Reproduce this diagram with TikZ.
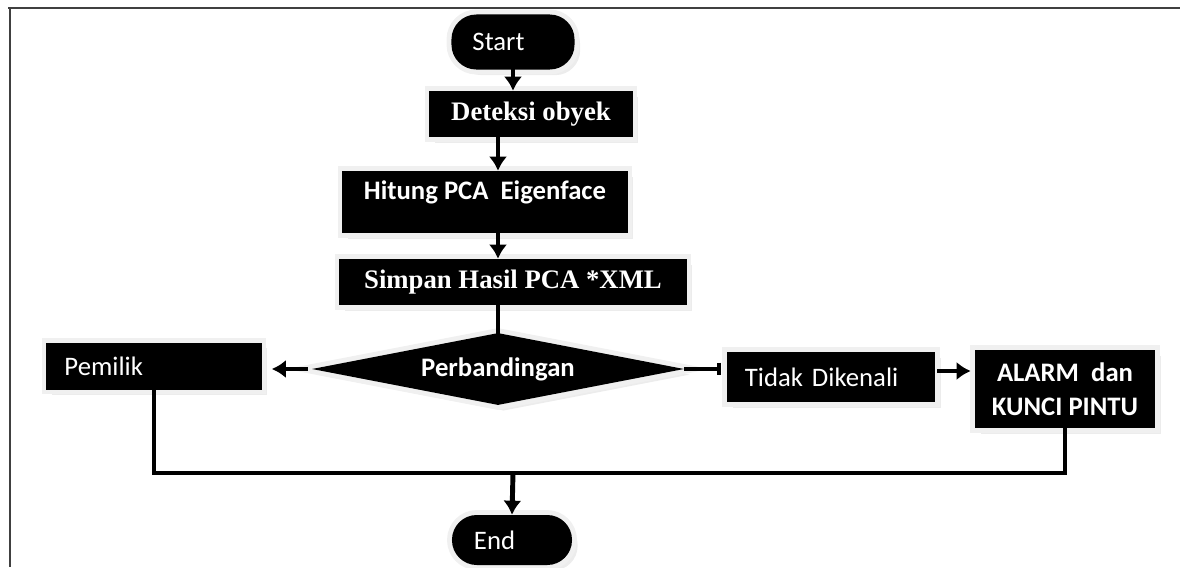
\documentclass[tikz,border=0pt]{standalone}
\usepackage{fontspec}
\setmainfont{Carlito}
\newfontfamily\timesfont{Liberation Serif}
\usetikzlibrary{shapes.geometric,arrows.meta,shadows}

\begin{document}
\begin{tikzpicture}[x=0.025cm,y=-0.025cm,
	box/.style={rectangle,fill=black,text=white,inner sep=0pt,
		font=\fontsize{19}{23}\selectfont,
		drop shadow={shadow xshift=4pt,shadow yshift=-4pt,fill=gray!30},
		preaction={draw=gray!12,line width=7pt}},
	term/.style={box,rounded corners=0.62cm},
	line/.style={line width=3.5pt,line cap=rect},
	arr/.style={line,-{Latex[length=10pt,width=13pt]}}]
	\useasboundingbox (0,0) rectangle (1184,567);
	% frame
	\draw[black!75,line width=1.2pt] (8,8) -- (1180,8);
	\draw[black!75,line width=1.2pt] (10,8) -- (10,567);
	% nodes
	\draw (513,42) node[term,minimum width=3.075cm,minimum height=1.375cm,inner xsep=0.525cm,text width=2.025cm,align=left] (1) {Start};
	\draw (531,114) node[box,minimum width=5.075cm,minimum height=1.15cm,font=\fontsize{19}{23}\selectfont\timesfont\bfseries] (2) {Deteksi obyek};
	\draw (485,202) node[box,minimum width=7.125cm,text height=0.7cm,text depth=0.85cm,font=\fontsize{19}{23}\selectfont\bfseries] (3) {Hitung PCA \ Eigenface};
	\draw (513,282) node[box,minimum width=8.675cm,minimum height=1.15cm,font=\fontsize{19}{23}\selectfont\timesfont\bfseries] (4) {Simpan Hasil PCA *XML};
	\draw (498,369) node[box,shape=diamond,aspect=5.3,minimum width=9.3cm,minimum height=1.8cm,font=\fontsize{19}{23}\selectfont\bfseries] (5) {Perbandingan};
	\draw (154,366) node[box,minimum width=5.375cm,minimum height=1.175cm,inner xsep=0.45cm,text width=4.475cm,align=left] (6) {Pemilik};
	\draw (831,377) node[box,minimum width=5.2cm,minimum height=1.25cm,inner xsep=0.45cm,text width=4.3cm,align=left] (7) {Tidak Dikenali};
	\draw (1065,389) node[box,minimum width=4.5cm,minimum height=1.95cm,align=center,font=\fontsize{19}{24}\selectfont\bfseries] (8) {ALARM \ dan\\KUNCI PINTU};
	\draw (512,540) node[term,minimum width=3cm,minimum height=1.25cm,inner xsep=0.55cm,text width=1.9cm,align=left] (9) {End};
	\coordinate (j) at (513,473);
	% connectors
	\draw[arr] (1.south) -- (1.south |- 2.north);
	\draw[arr] (2.south -| 5) -- (3.north -| 5);
	\draw[arr] (3.south -| 5) -- (4.north -| 5);
	\draw[line] (4.south -| 5) -- (5.north);
	\draw[arr,shorten <=0.15cm,shorten >=0.25cm] (5.west) -- (5.west -| 6.east);
	\draw[line width=2.5pt,-{Bar[width=9pt]},shorten >=0.15cm] (5.east) -- (5.east -| 7.west);
	\draw[arr,shorten <=0.1cm,shorten >=0.1cm] ([yshift=0.15cm]7.east) -- ([yshift=0.15cm]7.east -| 8.west);
	\draw[line] (6.south) |- (j) -| (8.south);
	\draw[arr,line cap=butt] (j) -- (9.north);
\end{tikzpicture}
\end{document}
